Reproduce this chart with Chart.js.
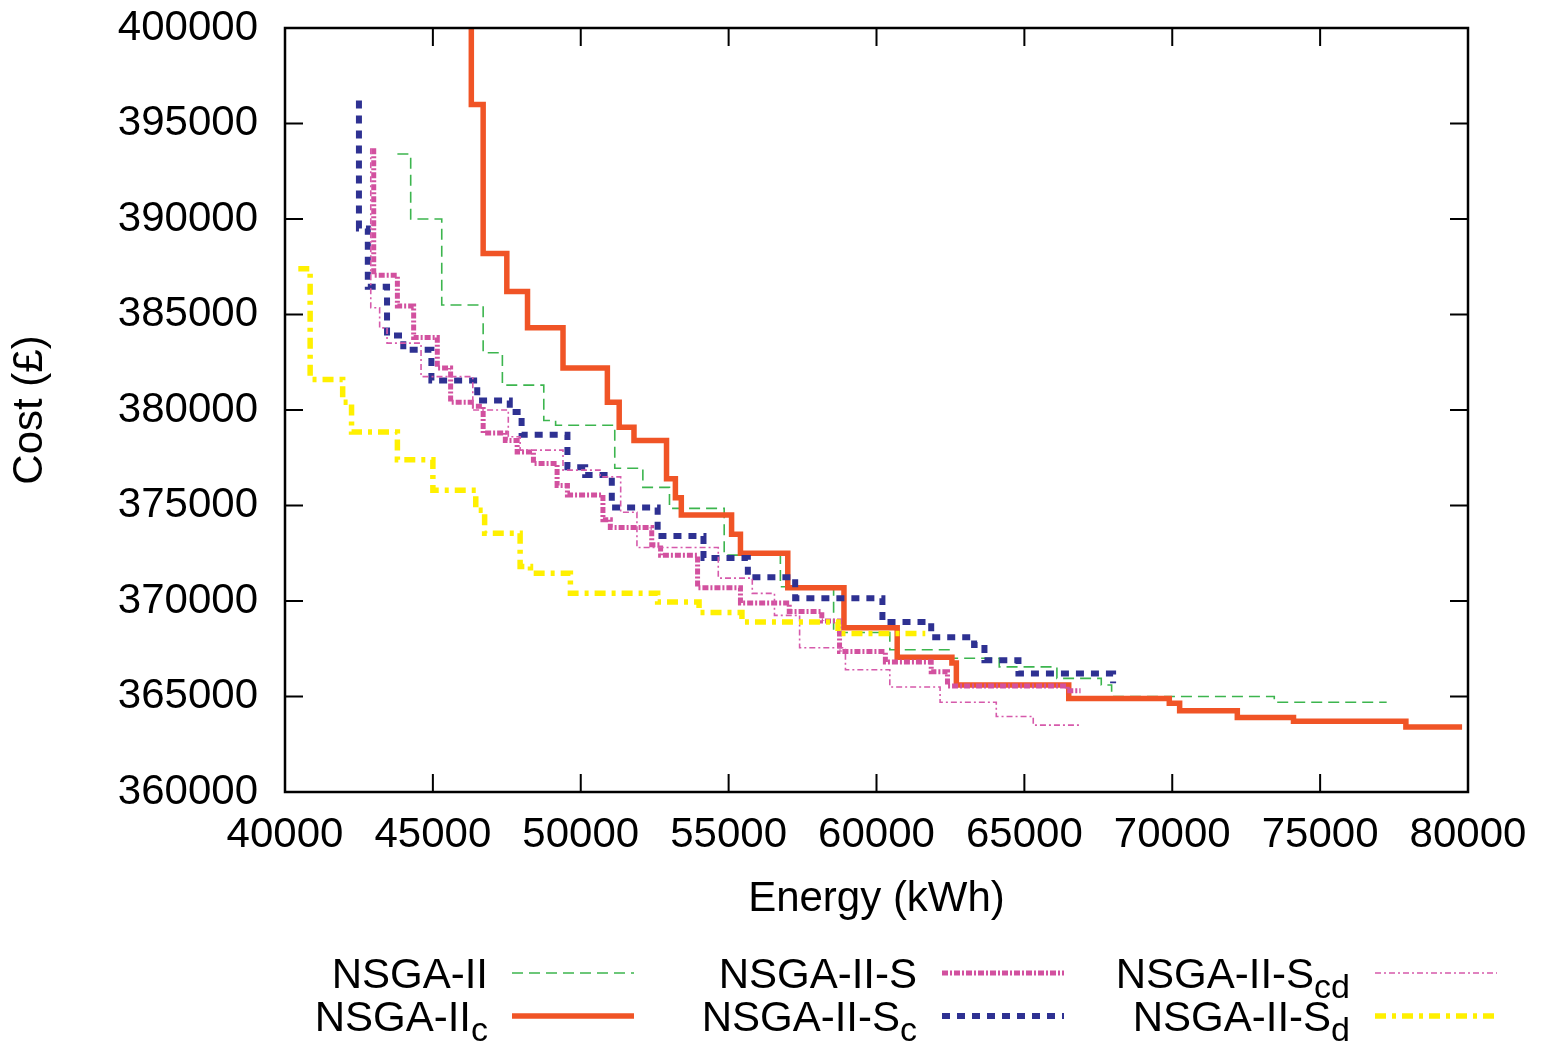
<!DOCTYPE html>
<html>
<head>
<meta charset="utf-8">
<title>Pareto fronts</title>
<script src="https://cdn.jsdelivr.net/npm/chart.js@4.4.1/dist/chart.umd.min.js"></script>
<style>
  html, body { margin: 0; padding: 0; background: #fff; }
</style>
</head>
<body>
<canvas id="chart" width="1541" height="1044"></canvas>
<script>
// Axis ranges / tick labels
const energyTicks = [40000, 45000, 50000, 55000, 60000, 65000, 70000, 75000, 80000];
const costTicks = [360000, 365000, 370000, 375000, 380000, 385000, 390000, 395000, 400000];

// Series names (main text + subscript) in key order
const seriesNames = ['NSGA-II', 'NSGA-II', 'NSGA-II-S', 'NSGA-II-S', 'NSGA-II-S', 'NSGA-II-S'];
const seriesSubs = ['', 'c', '', 'c', 'cd', 'd'];

// Step points (energy kWh, cost £)
const nsga2Energy = [43800, 44250, 45300, 46700, 47350, 48750, 49150, 51150, 52100, 53000, 54850, 56750, 58550, 60450, 62450, 64150, 66100, 67600, 67950, 73450, 77250];
const nsga2Cost = [393400, 393400, 390000, 385500, 383000, 381300, 379450, 379200, 376950, 375950, 374850, 372400, 370750, 368350, 367450, 367000, 366550, 365950, 365600, 365000, 364700];

const nsga2cEnergy = [46300, 46700, 47500, 48200, 49400, 50900, 51300, 51800, 52900, 53200, 53400, 55100, 55400, 57000, 58900, 60700, 62550, 62700, 66500, 69900, 70250, 72200, 74100, 77900, 79800];
const nsga2cCost = [401000, 396000, 388200, 386200, 384300, 382200, 380400, 379100, 378400, 376400, 375400, 374500, 373500, 372500, 370700, 368600, 367050, 366750, 365600, 364900, 364650, 364250, 363900, 363700, 363400];

const nsga2sEnergy = [43000, 43800, 44350, 45150, 45600, 46300, 46700, 47450, 47850, 48400, 49200, 49550, 50750, 51000, 52400, 52700, 53950, 55400, 57050, 58150, 58750, 60300, 61850, 62400, 66450, 66900];
const nsga2sCost = [393700, 387050, 385450, 383800, 382200, 380400, 380200, 378800, 378400, 377800, 377200, 376050, 375550, 374250, 373850, 372950, 372400, 370700, 369900, 369450, 368950, 367350, 366800, 366300, 365550, 365300];

const nsga2scEnergy = [42500, 42800, 43450, 44000, 44950, 46500, 47600, 48000, 49550, 50150, 51050, 52600, 54150, 55650, 57250, 60200, 61850, 63300, 63650, 64800, 68000, 68000];
const nsga2scCost = [396200, 389500, 386450, 383900, 383150, 381550, 380500, 379900, 378700, 377000, 376600, 374900, 373400, 372250, 371250, 370150, 368900, 368100, 367700, 366900, 366200, 365700];

const nsga2scdEnergy = [42900, 43200, 43450, 44600, 46350, 47550, 47950, 49400, 50650, 51350, 51900, 54650, 55800, 56550, 57400, 58950, 60450, 62150, 64050, 65300, 66900];
const nsga2scdCost = [393700, 385350, 384300, 383500, 381750, 380000, 378600, 377900, 376850, 376500, 374650, 372800, 371200, 370400, 369250, 367550, 366400, 365500, 364700, 363950, 363500];

const nsga2sdEnergy = [40450, 40850, 41950, 42250, 43800, 45000, 46450, 46750, 47950, 48300, 49650, 52600, 54000, 55450, 58700, 61650];
const nsga2sdCost = [387400, 387400, 381600, 380400, 378850, 377400, 375800, 374750, 373550, 371800, 371450, 370400, 369950, 369400, 368900, 368300];

const FONT = "'Liberation Sans', Arial, Helvetica, sans-serif";
Chart.defaults.font.family = FONT;
Chart.defaults.color = '#000';

function pts(xs, ys) {
  return xs.map((x, i) => ({ x: x, y: ys[i] }));
}

// vertical drop at the previous energy, then horizontal run (gnuplot fsteps look)
function series(i, xs, ys, color, width, dash, order) {
  return {
    label: seriesNames[i] + seriesSubs[i],
    data: pts(xs, ys),
    borderColor: color,
    backgroundColor: color,
    borderWidth: width,
    borderDash: dash,
    borderCapStyle: 'butt',
    borderJoinStyle: 'miter',
    stepped: 'after',
    pointRadius: 0,
    fill: false,
    clip: 0,
    order: order
  };
}

const datasets = [
  series(0, nsga2Energy, nsga2Cost, '#3cb54e', 1.6, [11, 6], 6),
  series(1, nsga2cEnergy, nsga2cCost, '#f05426', 5.5, [], 5),
  series(2, nsga2sEnergy, nsga2sCost, '#d2519f', 5, [6, 2, 2, 2], 4),
  series(3, nsga2scEnergy, nsga2scCost, '#2e3192', 6, [8, 7], 3),
  series(4, nsga2scdEnergy, nsga2scdCost, '#d65aab', 1.6, [6, 3, 2, 3], 2),
  series(5, nsga2sdEnergy, nsga2sdCost, '#fff000', 5.5, [11, 6, 4, 6], 1)
];

// inward ticks on all four sides + frame
const frameTicks = {
  id: 'frameTicks',
  afterDatasetsDraw(chart) {
    const { ctx, chartArea: a, scales: { x, y } } = chart;
    const len = 18;
    ctx.save();
    ctx.strokeStyle = '#000';
    ctx.lineWidth = 2;
    ctx.beginPath();
    energyTicks.forEach(v => {
      const px = x.getPixelForValue(v);
      ctx.moveTo(px, a.bottom); ctx.lineTo(px, a.bottom - len);
      ctx.moveTo(px, a.top); ctx.lineTo(px, a.top + len);
    });
    costTicks.forEach(v => {
      const py = y.getPixelForValue(v);
      ctx.moveTo(a.left, py); ctx.lineTo(a.left + len, py);
      ctx.moveTo(a.right, py); ctx.lineTo(a.right - len, py);
    });
    ctx.stroke();
    ctx.lineWidth = 2.5;
    ctx.strokeRect(a.left, a.top, a.right - a.left, a.bottom - a.top);
    ctx.restore();
  }
};

// gnuplot style key below the plot: 3 columns x 2 rows, text right-aligned, sample to the right
const keyLayout = {
  colRight: [488, 917, 1350],
  sampleX: [512, 942, 1375],
  sampleLen: 122,
  rowBase: [988, 1031],
  order: [[0, 2, 4], [1, 3, 5]]
};

const keyPlugin = {
  id: 'keyPlugin',
  afterDraw(chart) {
    const ctx = chart.ctx;
    ctx.save();
    ctx.fillStyle = '#000';
    ctx.textBaseline = 'alphabetic';
    keyLayout.order.forEach((row, r) => {
      row.forEach((di, c) => {
        const ds = chart.data.datasets[di];
        const base = keyLayout.rowBase[r];
        ctx.font = '42px ' + FONT;
        const mw = ctx.measureText(seriesNames[di]).width;
        ctx.font = '34px ' + FONT;
        const sw = seriesSubs[di] ? ctx.measureText(seriesSubs[di]).width : 0;
        const x0 = keyLayout.colRight[c] - mw - sw;
        ctx.font = '42px ' + FONT;
        ctx.textAlign = 'left';
        ctx.fillText(seriesNames[di], x0, base);
        if (sw) {
          ctx.font = '34px ' + FONT;
          ctx.fillText(seriesSubs[di], x0 + mw, base + 10);
        }
        const sy = base - 15;
        ctx.beginPath();
        ctx.strokeStyle = ds.borderColor;
        ctx.lineWidth = ds.borderWidth;
        ctx.setLineDash(ds.borderDash);
        ctx.lineCap = 'butt';
        ctx.moveTo(keyLayout.sampleX[c], sy);
        ctx.lineTo(keyLayout.sampleX[c] + keyLayout.sampleLen, sy);
        ctx.stroke();
        ctx.setLineDash([]);
      });
    });
    ctx.restore();
  }
};

new Chart(document.getElementById('chart'), {
  type: 'line',
  data: { datasets: datasets },
  options: {
    responsive: false,
    animation: false,
    layout: { padding: { left: 0, top: 28, right: 73, bottom: 0 } },
    plugins: {
      legend: { display: false },
      tooltip: { enabled: false }
    },
    scales: {
      x: {
        type: 'linear',
        min: energyTicks[0],
        max: energyTicks[energyTicks.length - 1],
        afterBuildTicks(scale) { scale.ticks = energyTicks.map(v => ({ value: v })); },
        afterFit(scale) {
          scale.height = 252;
          scale.paddingLeft = 0;
          scale.paddingRight = 0;
        },
        grid: { display: false, drawTicks: false },
        border: { display: false },
        ticks: {
          padding: 18,
          maxRotation: 0,
          autoSkip: false,
          font: { size: 42 },
          callback: v => String(v)
        },
        title: {
          display: true,
          text: 'Energy (kWh)',
          font: { size: 42 },
          padding: { top: 0, bottom: 119 }
        }
      },
      y: {
        type: 'linear',
        min: costTicks[0],
        max: costTicks[costTicks.length - 1],
        afterBuildTicks(scale) { scale.ticks = costTicks.map(v => ({ value: v })); },
        afterFit(scale) {
          scale.width = 285;
          scale.paddingTop = 0;
          scale.paddingBottom = 0;
        },
        grid: { display: false, drawTicks: false },
        border: { display: false },
        ticks: {
          padding: 27,
          autoSkip: false,
          font: { size: 42 },
          callback: v => String(v)
        },
        title: {
          display: true,
          text: 'Cost (£)',
          font: { size: 42 },
          padding: { top: 5, bottom: 0 }
        }
      }
    }
  },
  plugins: [frameTicks, keyPlugin]
});
</script>
</body>
</html>
